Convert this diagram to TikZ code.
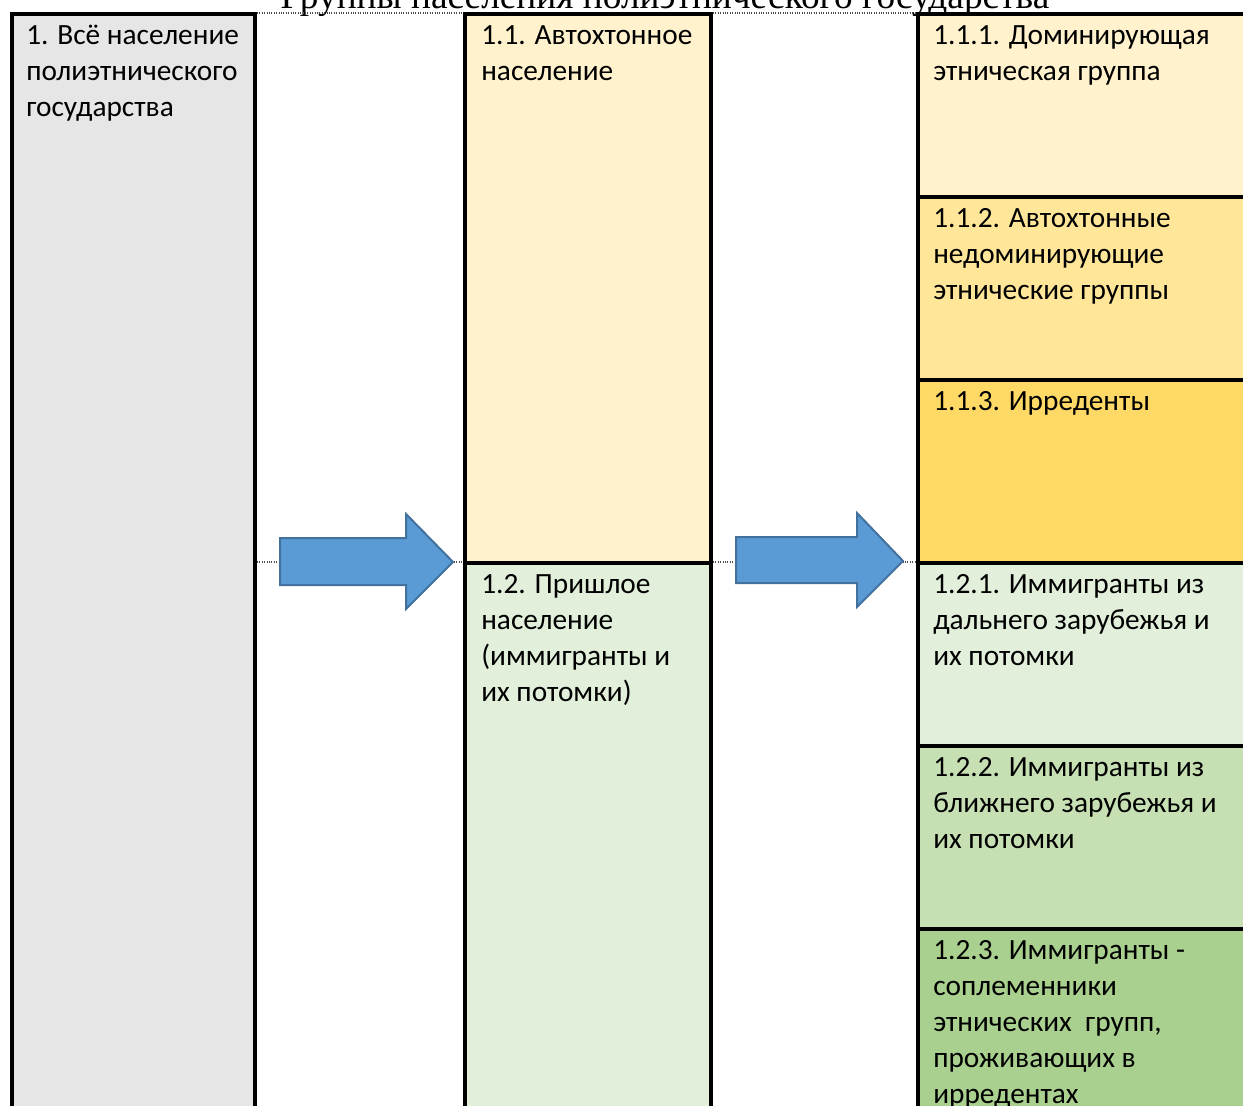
\documentclass[tikz,border=0pt]{standalone}
\usepackage{fontspec}
\setmainfont{Carlito}
\newfontfamily\titlefont{Liberation Serif}
\definecolor{cgray}{HTML}{E7E6E6}
\definecolor{cyel1}{HTML}{FFF2CC}
\definecolor{cyel2}{HTML}{FFE699}
\definecolor{cyel3}{HTML}{FFD966}
\definecolor{cgrn1}{HTML}{E2EFDA}
\definecolor{cgrn2}{HTML}{C6E0B4}
\definecolor{cgrn3}{HTML}{A9D08E}
\definecolor{arrfill}{HTML}{5B9BD5}
\definecolor{arrline}{HTML}{41719C}
\begin{document}
\begin{tikzpicture}[x=0.75pt,y=-0.75pt,
  box/.style={draw=black, line width=3.4pt},
  lbl/.style={anchor=north west, inner sep=0pt, align=left,
    font=\fontsize{22}{27}\selectfont},
  blockarrow/.style={fill=arrfill, draw=arrline, line width=1.5pt, line join=miter},
  grid/.style={draw=black!70, line width=0.8pt, densely dotted}]
\useasboundingbox (0,0) rectangle (1243,1106);
\clip (0,0) rectangle (1243,1106);
\fill[white] (0,0) rectangle (1243,1106);
% title (cut off at top)
\node[anchor=base, inner sep=0pt, font=\titlefont\fontsize{28}{32}\selectfont] (title) at (665,9) {Группы населения полиэтнического государства};
% hidden table grid lines
\draw[grid] (257,13) -- (918,13);
\draw[grid] (257,562) -- (918,562);
% column 1
\draw[box, fill=cgray] (12,14) rectangle (255,1120);
% column 2
\draw[box, fill=cyel1] (465,14) rectangle (711,563);
\draw[box, fill=cgrn1] (465,563) rectangle (711,1120);
% column 3
\draw[box, fill=cyel1] (918,14) rectangle (1260,197);
\draw[box, fill=cyel2] (918,197) rectangle (1260,380);
\draw[box, fill=cyel3] (918,380) rectangle (1260,563);
\draw[box, fill=cgrn1] (918,563) rectangle (1260,746);
\draw[box, fill=cgrn2] (918,746) rectangle (1260,929);
\draw[box, fill=cgrn3] (918,929) rectangle (1260,1120);
% block arrows
\draw[blockarrow] (280,538) -- (406,538) -- (406,514) -- (453,562) -- (406,609) -- (406,585) -- (280,585) -- cycle;
\draw[blockarrow] (736,537) -- (857,537) -- (857,513) -- (903,561) -- (857,607) -- (857,583) -- (736,583) -- cycle;
% labels
\node[lbl] (t1) at (26,15) {\rule{0pt}{22pt}1. Всё население\\полиэтнического\\государства};
\node[lbl] (t11) at (481,15) {\rule{0pt}{22pt}1.1. Автохтонное\\население};
\node[lbl] (t12) at (481,564) {\rule{0pt}{22pt}1.2. Пришлое\\население\\(иммигранты и\\их потомки)};
\node[lbl] (t111) at (933,15) {\rule{0pt}{22pt}1.1.1. Доминирующая\\этническая группа};
\node[lbl] (t112) at (933,198) {\rule{0pt}{22pt}1.1.2. Автохтонные\\недоминирующие\\этнические группы};
\node[lbl] (t113) at (933,381) {\rule{0pt}{22pt}1.1.3. Ирреденты};
\node[lbl] (t121) at (933,564) {\rule{0pt}{22pt}1.2.1. Иммигранты из\\дальнего зарубежья и\\их потомки};
\node[lbl] (t122) at (933,747) {\rule{0pt}{22pt}1.2.2. Иммигранты из\\ближнего зарубежья и\\их потомки};
\node[lbl] (t123) at (933,930) {\rule{0pt}{22pt}1.2.3. Иммигранты -\\соплеменники\\этнических\ \ групп,\\проживающих в\\ирредентах};
\end{tikzpicture}
\end{document}
